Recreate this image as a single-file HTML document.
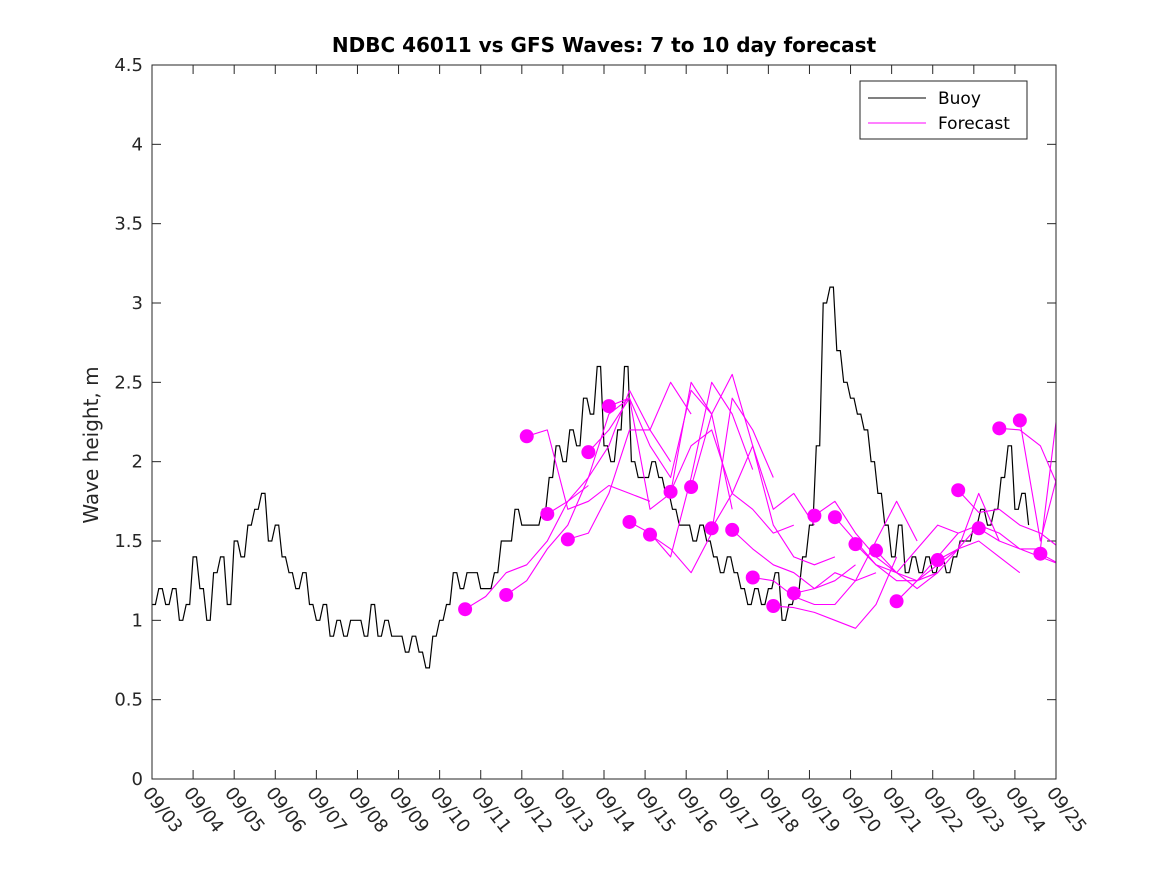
<!DOCTYPE html>
<html><head><meta charset="utf-8"><style>
body{margin:0;background:#fff}
svg{display:block;font-family:"DejaVu Sans","Liberation Sans",sans-serif}
</style></head><body>
<svg id="chart" width="1167" height="875" viewBox="0 0 1167 875">
<rect width="1167" height="875" fill="#fff"/>
<defs><clipPath id="pc"><rect x="152" y="65" width="904" height="714"/></clipPath></defs>
<g id="axes"></g>
<g id="marks" clip-path="url(#pc)"></g>
<rect x="152" y="65" width="904" height="714" fill="none" stroke="#262626" stroke-width="1"/>
<text x="604" y="52" text-anchor="middle" font-size="20" font-weight="bold" fill="#000">NDBC 46011 vs GFS Waves: 7 to 10 day forecast</text>
<text x="0" y="0" transform="translate(98,445) rotate(-90)" text-anchor="middle" font-size="20" fill="#262626">Wave height, m</text>
<g>
<rect x="860" y="81" width="167" height="58" fill="#fff" stroke="#262626" stroke-width="1"/>
<line x1="868" y1="98" x2="926" y2="98" stroke="#000" stroke-width="1"/>
<text x="938" y="104" font-size="17" fill="#000">Buoy</text>
<line x1="868" y1="123" x2="926" y2="123" stroke="#ff00ff" stroke-width="1"/>
<text x="938" y="129" font-size="17" fill="#000">Forecast</text>
</g>
</svg>
<script>
const dateLabels=["09/03","09/04","09/05","09/06","09/07","09/08","09/09","09/10","09/11","09/12","09/13","09/14","09/15","09/16","09/17","09/18","09/19","09/20","09/21","09/22","09/23","09/24","09/25"];
const yTicks=[0,0.5,1,1.5,2,2.5,3,3.5,4,4.5];
const yTickLabels=["0","0.5","1","1.5","2","2.5","3","3.5","4","4.5"];
// buoy: 4-hourly values starting 09/03 00:00
const buoy=[
1.1,1.2,1.1,1.2,1.0,1.1,
1.4,1.2,1.0,1.3,1.4,1.1,
1.5,1.4,1.6,1.7,1.8,1.5,
1.6,1.4,1.3,1.2,1.3,1.1,
1.0,1.1,0.9,1.0,0.9,1.0,
1.0,0.9,1.1,0.9,1.0,0.9,
0.9,0.8,0.9,0.8,0.7,0.9,
1.0,1.1,1.3,1.2,1.3,1.3,
1.2,1.2,1.3,1.5,1.5,1.7,
1.6,1.6,1.6,1.7,1.9,2.1,
2.0,2.2,2.1,2.4,2.3,2.6,
2.1,2.0,2.2,2.6,2.0,1.9,
1.9,2.0,1.9,1.8,1.7,1.6,
1.6,1.5,1.6,1.5,1.4,1.3,
1.4,1.3,1.2,1.1,1.2,1.1,
1.2,1.3,1.0,1.1,1.2,1.4,
1.6,2.1,3.0,3.1,2.7,2.5,
2.4,2.3,2.2,2.0,1.8,1.6,
1.4,1.6,1.3,1.4,1.3,1.4,
1.3,1.4,1.3,1.4,1.5,1.5,
1.6,1.7,1.6,1.7,1.9,2.1,
1.7,1.8,1.6];
// forecast start days (days since 09/03) and half-daily values
const fcStart=[7.62,8.62,9.12,9.62,10.12,10.62,11.12,11.62,12.12,12.62,13.12,13.62,14.12,14.62,15.12,15.62,16.12,16.62,17.12,17.62,18.12,19.12,19.62,20.12,20.62,21.12,21.62];
const fcValues=[
[1.07,1.15,1.3,1.35,1.5,1.75,1.85],
[1.16,1.25,1.45,1.6,1.9,2.3,2.4],
[2.16,2.2,1.7,1.75,1.85,1.8,1.75],
[1.67,1.75,1.9,2.1,2.45,2.2,2.0],
[1.51,1.55,1.8,2.2,2.2,2.5,2.3],
[2.06,2.2,2.4,2.1,1.9,2.45,2.3],
[2.35,2.4,1.7,1.8,2.5,2.3,1.7],
[1.62,1.55,1.4,1.9,2.5,2.3,1.95],
[1.54,1.45,1.3,1.55,2.4,2.2,1.9],
[1.81,2.1,2.2,1.8,1.7,1.55,1.6],
[1.84,2.3,2.55,2.1,1.7,1.8,1.6],
[1.58,1.8,2.1,1.6,1.4,1.35,1.4],
[1.57,1.45,1.35,1.3,1.2,1.25,1.35],
[1.27,1.25,1.15,1.1,1.1,1.25,1.3],
[1.09,1.08,1.05,1.0,0.95,1.1,1.4],
[1.17,1.2,1.3,1.25,1.5,1.75,1.5],
[1.66,1.75,1.55,1.4,1.3,1.25,1.3],
[1.65,1.5,1.35,1.3,1.45,1.6,1.55],
[1.48,1.35,1.25,1.25,1.4,1.55,1.6],
[1.44,1.3,1.2,1.3,1.45,1.8,1.5],
[1.12,1.25,1.35,1.45,1.5,1.4,1.3],
[1.38,1.45,1.6,1.55,1.45,1.4,1.35],
[1.82,1.68,1.7,1.6,1.55,1.45,1.4],
[1.58,1.5,1.45,1.45,2.5,2.0,1.9],
[2.21,2.2,2.1,1.8,1.6,1.65,1.7],
[2.26,1.5,2.0,1.7,1.6,1.5,1.4],
[1.42,1.35,1.35,1.3,1.3,1.3,1.3]];
const X0=152,X1=1056,Y0=779,Y1=65,DAYS=22,YMAX=4.5;
const xs=t=>X0+(X1-X0)*t/DAYS;
const ys=v=>Y0-(Y0-Y1)*v/YMAX;
const NS="http://www.w3.org/2000/svg";
const axes=document.getElementById('axes'),marks=document.getElementById('marks');
function mk(tag,attrs,parent){const e=document.createElementNS(NS,tag);for(const k in attrs)e.setAttribute(k,attrs[k]);parent.appendChild(e);return e;}
yTicks.forEach((v,i)=>{const y=ys(v);
 const l=mk('line',{x1:X0,y1:y,x2:X0+9,y2:y,stroke:'#262626'},axes);
 
 
 const r=mk('line',{x1:X1,y1:y,x2:X1-9,y2:y,stroke:'#262626'},axes);
 
 
 const t=mk('text',{x:X0-9,y:y+6,'text-anchor':'end','font-size':18,fill:'#262626'},axes);
 t.textContent=yTickLabels[i];
 
 
});
dateLabels.forEach((d,i)=>{const x=xs(i);
 const l=mk('line',{x1:x,y1:Y0,x2:x,y2:Y0-9,stroke:'#262626'},axes);
 
 
 const u=mk('line',{x1:x,y1:Y1,x2:x,y2:Y1+9,stroke:'#262626'},axes);
 
 
 const t=mk('text',{x:0,y:0,transform:`translate(${x-10},${Y0+14}) rotate(52)`,'font-size':18,fill:'#262626'},axes);
 t.textContent=d;
 
 
});
// buoy line (stepped)
let p='';buoy.forEach((v,i)=>{const x=xs(i/6),y=ys(v);p+=(i?'L':'M')+x.toFixed(1)+','+y.toFixed(1);if(i<buoy.length-1)p+='L'+xs((i+0.5)/6).toFixed(1)+','+y.toFixed(1);});
const bl=mk('path',{d:p,fill:'none',stroke:'#000','stroke-width':1.2},marks);


// forecasts (polylines)
fcValues.forEach((vals,k)=>{
 const d=vals.map((v,j)=>(j?'L':'M')+xs(fcStart[k]+j*0.5).toFixed(1)+','+ys(v).toFixed(1)).join('');
 const fl=mk('path',{d:d,fill:'none',stroke:'#ff00ff','stroke-width':1.1,'stroke-linejoin':'round'},marks);
 
 
});
fcValues.forEach((vals,k)=>{
 const c=mk('circle',{cx:xs(fcStart[k]),cy:ys(vals[0]),r:7,fill:'#ff00ff'},marks);
 
 
});
</script>
</body></html>
